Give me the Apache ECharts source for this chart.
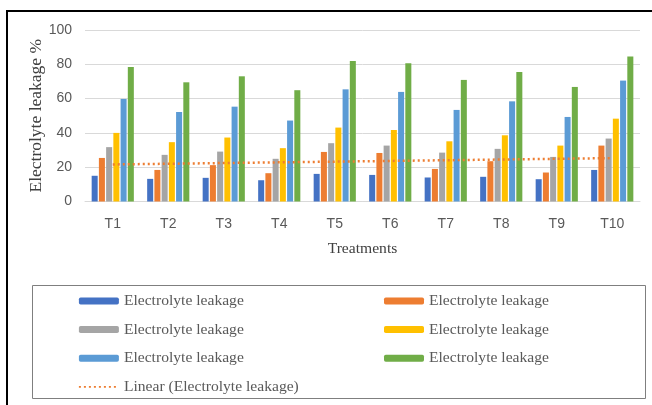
<!DOCTYPE html>
<html>
<head>
<meta charset="utf-8">
<script src="https://cdn.jsdelivr.net/npm/echarts@6/dist/echarts.min.js"></script>
<style>html,body{margin:0;padding:0;background:#fff}#c{width:652px;height:405px}</style>
</head>
<body>
<div id="c"></div>
<script>
const categories = ['T1','T2','T3','T4','T5','T6','T7','T8','T9','T10'];
const seriesNames = ['Electrolyte leakage','Electrolyte leakage','Electrolyte leakage','Electrolyte leakage','Electrolyte leakage','Electrolyte leakage'];
const s1 = [15.0, 13.2, 13.8, 12.4, 16.1, 15.5, 14.0, 14.4, 13.0, 18.4];
const s2 = [25.4, 18.4, 21.2, 16.5, 28.9, 28.3, 19.0, 23.5, 16.9, 32.6];
const s3 = [31.7, 27.2, 29.1, 24.9, 34.0, 32.6, 28.5, 30.7, 26.0, 36.7];
const s4 = [40.0, 34.6, 37.3, 31.1, 43.1, 41.7, 35.1, 38.6, 32.6, 48.3];
const s5 = [59.8, 52.2, 55.3, 47.2, 65.4, 63.9, 53.4, 58.4, 49.3, 70.5];
const s6 = [78.4, 69.5, 73.0, 64.9, 81.9, 80.6, 70.9, 75.5, 66.8, 84.5];
// Linear trendline endpoints (at T1 and T10)
const trendName = 'Linear (Electrolyte leakage)';
const trend = [[0, 21.6], [9, 25.3]];
const yTicks = {min: 0, max: 100, interval: 20};

const colors = ['#4472C4','#ED7D31','#A5A5A5','#FFC000','#5B9BD5','#70AD47'];
const values = [s1, s2, s3, s4, s5, s6];
const ids = values.map((_, i) => 'EL' + (i + 1));

const chart = echarts.init(document.getElementById('c'), null, {renderer: 'canvas'});
const barSeries = values.map((v, i) => ({
  name: ids[i],
  type: 'bar',
  data: v,
  barGap: '20%',
  barCategoryGap: '24%',
  itemStyle: {color: colors[i]},
  emphasis: {disabled: true}
}));
const serifFont = "'Liberation Serif', 'Times New Roman', serif";
const legendText = () => ({
  fontFamily: serifFont,
  fontSize: 15.6,
  color: '#595959',
  lineHeight: 18
});
const fmt = (n) => n === 'TREND' ? trendName : seriesNames[0];
chart.setOption({
  animation: false,
  backgroundColor: '#fff',
  grid: {left: 85, right: 12, top: 30, bottom: 203.5, containLabel: false},
  xAxis: {
    type: 'category',
    data: categories,
    name: 'Treatments',
    nameLocation: 'middle',
    nameGap: 39,
    nameMoveOverlap: false,
    nameTextStyle: {fontFamily: serifFont, fontSize: 15.6, color: '#404040'},
    axisLine: {lineStyle: {color: '#d9d9d9', width: 1}},
    axisTick: {show: false},
    axisLabel: {margin: 16, fontFamily: "'Liberation Sans Narrow', 'Liberation Sans', sans-serif", fontSize: 14, color: '#595959'}
  },
  yAxis: {
    type: 'value',
    min: yTicks.min, max: yTicks.max, interval: yTicks.interval,
    name: 'Electrolyte leakage %',
    nameLocation: 'middle',
    nameGap: 40,
    nameMoveOverlap: false,
    nameTextStyle: {fontFamily: serifFont, fontSize: 17.5, color: '#404040'},
    axisLine: {show: false},
    axisTick: {show: false},
    splitLine: {lineStyle: {color: '#d9d9d9', width: 1}},
    axisLabel: {margin: 13, fontFamily: "'Liberation Sans Narrow', 'Liberation Sans', sans-serif", fontSize: 14, color: '#595959'}
  },
  legend: [
    {
      left: 78, top: 292, orient: 'vertical', padding: 0,
      data: [ids[0], ids[2], ids[4], {name: 'TREND', itemStyle: {opacity: 0}, lineStyle: {width: 1.8}}],
      itemWidth: 40, itemHeight: 7, itemGap: 10.6,
      textStyle: legendText(), formatter: fmt, selectedMode: false
    },
    {
      left: 384, top: 292, orient: 'vertical', padding: 0,
      data: [ids[1], ids[3], ids[5]],
      itemWidth: 40, itemHeight: 7, itemGap: 10.6,
      textStyle: legendText(), formatter: fmt, selectedMode: false
    }
  ],
  graphic: [
    {type: 'line', shape: {x1: 7, y1: 11, x2: 652, y2: 11}, style: {stroke: '#000', lineWidth: 2}, silent: true},
    {type: 'line', shape: {x1: 7, y1: 10, x2: 7, y2: 405}, style: {stroke: '#000', lineWidth: 2}, silent: true},
    {type: 'rect', shape: {x: 32.5, y: 285.5, width: 613, height: 113}, style: {fill: 'none', stroke: '#7f7f7f', lineWidth: 1}, silent: true}
  ],
  series: barSeries.concat([{
    name: 'TREND',
    type: 'line',
    data: trend,
    symbol: 'none',
    lineStyle: {color: '#ED7D31', width: 2.5, type: [2, 3]},
    itemStyle: {color: '#ED7D31'},
    z: 5,
    emphasis: {disabled: true}
  }])
});
</script>
</body>
</html>
